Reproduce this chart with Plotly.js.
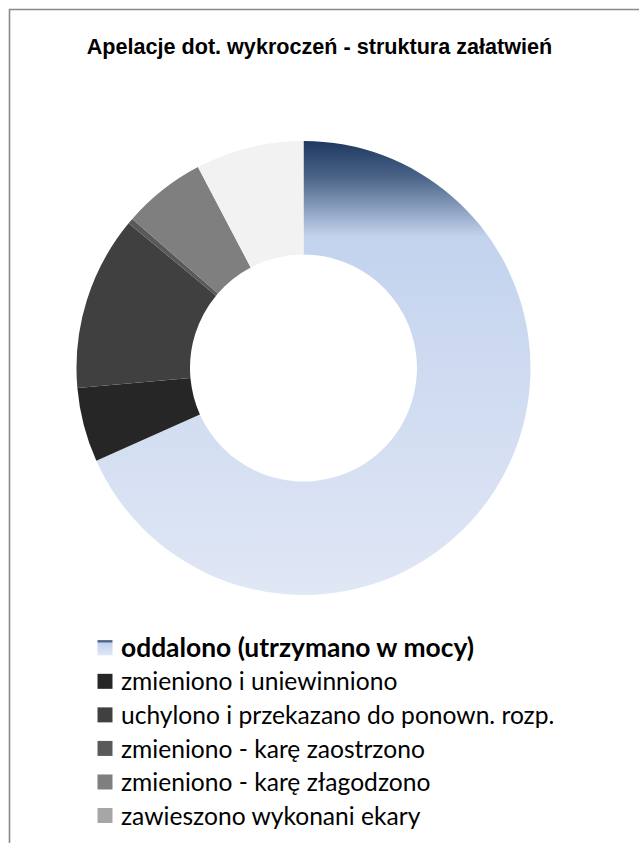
<!DOCTYPE html>
<html>
<head>
<meta charset="utf-8">
<script src="https://cdn.plot.ly/plotly-3.0.1.min.js"></script>
<style>html,body{margin:0;padding:0;background:#fff;}</style>
</head>
<body>
<div id="chart" style="width:639px;height:843px"></div>
<script>
const chartTitle = 'Apelacje dot. wykroczeń - struktura załatwień';
const labels = [
  'oddalono (utrzymano w mocy)',
  'zmieniono i uniewinniono',
  'uchylono i przekazano do ponown. rozp.',
  'zmieniono - karę zaostrzono',
  'zmieniono - karę złagodzono',
  'zawieszono wykonani ekary',
  'inne'
];
const values = [68.3, 5.3, 12.4, 0.4, 5.9, 0, 7.7];
const colors = ['#C9D7EF', '#262626', '#404040', '#595959', '#7F7F7F', '#A6A6A6', '#F2F2F2'];

const shownLabels = labels.map((l, i) => i === 0
  ? '<span style="font-size:26.4px"><b>' + l + '</b></span>'
  : '<span style="font-size:24.6px">' + l + '</span>');

const W = 639, H = 843;
const trace = {
  type: 'pie',
  labels: shownLabels,
  values: values,
  marker: {colors: colors, line: {width: 0}},
  hole: 0.5,
  sort: false,
  direction: 'clockwise',
  rotation: 0,
  textinfo: 'none',
  hoverinfo: 'label+percent',
  domain: {x: [(303.5 - 227) / W, (303.5 + 227) / W], y: [1 - 595 / H, 1 - 141 / H]}
};

const layout = {
  width: W, height: H,
  margin: {l: 0, r: 0, t: 0, b: 0, autoexpand: false},
  paper_bgcolor: '#ffffff',
  title: {
    text: '<b>' + chartTitle + '</b>',
    font: {family: 'Liberation Sans, Arial, sans-serif', size: 21.6, color: '#000000'},
    x: 0.5, xanchor: 'center', y: 1 - 46 / H, yanchor: 'middle', yref: 'container'
  },
  showlegend: true,
  legend: {
    x: 81 / W, xanchor: 'left', y: 1 - 626 / H, yanchor: 'top',
    font: {family: 'Lato, Calibri, sans-serif', size: 23.5, color: '#000000'},
    bgcolor: 'rgba(0,0,0,0)', borderwidth: 0,
    maxheight: 208
  },
  shapes: [
    {type: 'line', xref: 'paper', yref: 'paper', x0: 9.5 / W, x1: 9.5 / W, y0: 1 - 9 / H, y1: -0.05,
     line: {color: '#8A8A8A', width: 1.6}},
    {type: 'line', xref: 'paper', yref: 'paper', x0: 9 / W, x1: 1.05, y0: 1 - 9.5 / H, y1: 1 - 9.5 / H,
     line: {color: '#8A8A8A', width: 1.6}}
  ]
};

Plotly.newPlot('chart', [trace], layout, {staticPlot: true}).then(function (gd) {
  const svg = gd.querySelector('svg.main-svg');
  const ns = 'http://www.w3.org/2000/svg';
  let defs = svg.querySelector('defs');
  if (!defs) { defs = document.createElementNS(ns, 'defs'); svg.insertBefore(defs, svg.firstChild); }
  const grad = document.createElementNS(ns, 'linearGradient');
  grad.setAttribute('id', 'gradOddalono');
  grad.setAttribute('x1', '0'); grad.setAttribute('y1', '0');
  grad.setAttribute('x2', '0'); grad.setAttribute('y2', '1');
  [['0', '#1F3861'], ['0.08', '#4A6488'], ['0.21', '#C3D3EE'], ['1', '#E0E7F5']].forEach(function (s) {
    const st = document.createElementNS(ns, 'stop');
    st.setAttribute('offset', s[0]); st.setAttribute('stop-color', s[1]);
    grad.appendChild(st);
  });
  defs.appendChild(grad);
  const slice = gd.querySelector('.slice path.surface');
  if (slice) slice.style.fill = 'url(#gradOddalono)';
  // slightly larger legend swatches, as in the reference
  gd.querySelectorAll('.legend .legendpoints path').forEach(function (p, i) {
    p.setAttribute('d', 'M11.5,7.5H-3.5V-7.5H11.5Z');
    if (i === 0) p.style.fill = 'url(#gradOddalono)';
  });
  // the reference's legend is cut off by the frame after the 6th entry
  const items = gd.querySelectorAll('.legend .traces');
  for (let i = 6; i < items.length; i++) items[i].style.display = 'none';
});
</script>
</body>
</html>
